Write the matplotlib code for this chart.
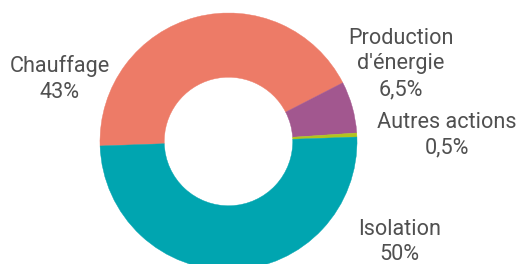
import matplotlib
matplotlib.use("Agg")
import matplotlib.pyplot as plt

# Data
categories = ["Chauffage", "Production\nd'énergie", "Autres actions", "Isolation"]
values = [43, 6.5, 0.5, 50]
colors = ["#ED7B67", "#A2578F", "#B2C41E", "#00A5B0"]

W, H = 516, 264
fig = plt.figure(figsize=(W / 100, H / 100), dpi=100)
ax = fig.add_axes([0, 0, 1, 1])

cx, cy, R = 228.5, 141.5, 128.5  # pixel center / radius
wedges, _ = ax.pie(values, colors=colors, startangle=182, counterclock=False,
                   radius=1.0, wedgeprops=dict(width=0.5, linewidth=0))
for w, c in zip(wedges, colors):
    w.set_edgecolor(c)
    w.set_linewidth(0.3)
ax.set_aspect("auto")
ax.set_xlim(-cx / R, (W - cx) / R)
ax.set_ylim(-(H - cy) / R, cy / R)
ax.axis("off")

# label layout: (center x px, first baseline y px)
label_pos = [(60, 72), (401, 44), (446.5, 128), (399.5, 235)]
line_step = 25.5
font = dict(family=["Roboto", "DejaVu Sans"], fontsize=15.6, color="#505050")

for cat, v, (px, py) in zip(categories, values, label_pos):
    pct = f"{v:g}".replace(".", ",") + "%"
    lines = cat.split("\n") + [pct]
    for i, ln in enumerate(lines):
        y = py + i * line_step
        fig.text(px / W, 1 - y / H, ln, ha="center", va="baseline", **font)

fig.savefig("out.png", dpi=100)
